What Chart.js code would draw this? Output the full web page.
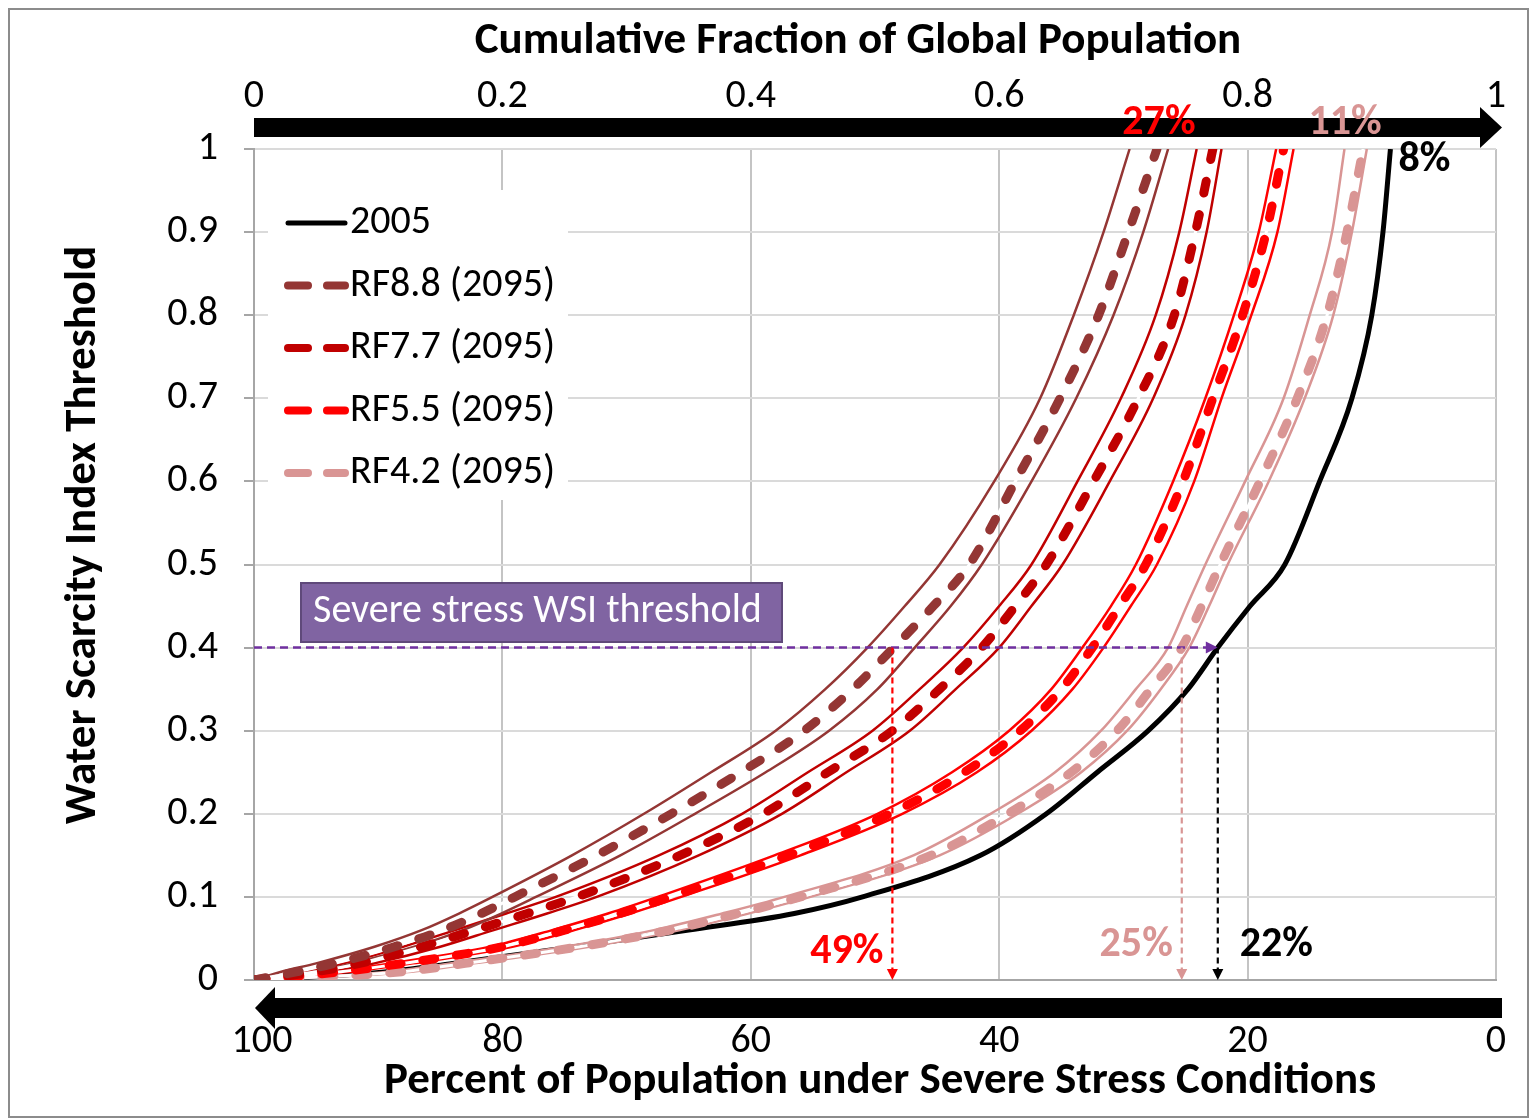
<!DOCTYPE html>
<html>
<head>
<meta charset="utf-8">
<script src="https://cdn.jsdelivr.net/npm/chart.js@4.4.0/dist/chart.umd.min.js"></script>
<style>
  html, body { margin: 0; padding: 0; background: #fff; }
</style>
</head>
<body>
<canvas id="wsiChart" width="1530" height="1119"></canvas>
<script>
// WSI threshold levels (y) and the cumulative population fraction (x) read for each curve
const wsiLevels = [0, 0.01, 0.02, 0.04, 0.06, 0.08, 0.1, 0.15, 0.2, 0.25, 0.3, 0.35, 0.4, 0.45, 0.5, 0.6, 0.7, 0.8, 0.9, 1.0];

const pop2005 = [0, 0.107, 0.16, 0.258, 0.35, 0.435, 0.49, 0.585, 0.638, 0.679, 0.72, 0.752, 0.776, 0.802, 0.830, 0.858, 0.884, 0.900, 0.909, 0.915];

const rf88   = [0, 0.035, 0.065, 0.113, 0.152, 0.183, 0.21, 0.276, 0.336, 0.392, 0.443, 0.482, 0.515, 0.547, 0.576, 0.613, 0.649, 0.680, 0.704, 0.727];
const rf88Lo = [0, 0.022, 0.05, 0.097, 0.135, 0.165, 0.192, 0.256, 0.314, 0.368, 0.42, 0.46, 0.494, 0.524, 0.552, 0.596, 0.633, 0.66, 0.684, 0.705];
const rf88Hi = [0, 0.048, 0.079, 0.129, 0.168, 0.199, 0.227, 0.295, 0.355, 0.412, 0.463, 0.502, 0.532, 0.561, 0.586, 0.626, 0.662, 0.692, 0.716, 0.736];

const rf77   = [0, 0.05, 0.085, 0.135, 0.178, 0.22, 0.26, 0.343, 0.41, 0.462, 0.514, 0.552, 0.586, 0.613, 0.638, 0.676, 0.712, 0.741, 0.758, 0.772];
const rf77Lo = [0, 0.038, 0.072, 0.12, 0.162, 0.203, 0.243, 0.326, 0.393, 0.446, 0.498, 0.536, 0.571, 0.6, 0.626, 0.663, 0.698, 0.726, 0.745, 0.759];
const rf77Hi = [0, 0.062, 0.097, 0.15, 0.193, 0.236, 0.276, 0.358, 0.425, 0.477, 0.528, 0.565, 0.6, 0.626, 0.651, 0.689, 0.724, 0.750, 0.767, 0.779];

const rf55   = [0, 0.07, 0.12, 0.2, 0.25, 0.295, 0.335, 0.43, 0.512, 0.572, 0.617, 0.65, 0.675, 0.697, 0.718, 0.748, 0.772, 0.796, 0.815, 0.829];
const rf55Lo = [0, 0.062, 0.11, 0.19, 0.24, 0.285, 0.325, 0.419, 0.502, 0.562, 0.608, 0.642, 0.667, 0.69, 0.71, 0.74, 0.766, 0.789, 0.809, 0.823];
const rf55Hi = [0, 0.078, 0.128, 0.208, 0.258, 0.303, 0.344, 0.44, 0.522, 0.582, 0.626, 0.659, 0.684, 0.706, 0.727, 0.757, 0.779, 0.803, 0.824, 0.837];

const rf42   = [0, 0.12, 0.17, 0.262, 0.335, 0.39, 0.44, 0.545, 0.607, 0.658, 0.695, 0.722, 0.747, 0.763, 0.778, 0.81, 0.84, 0.864, 0.880, 0.893];
const rf42Lo = [0, 0.108, 0.158, 0.25, 0.322, 0.377, 0.427, 0.531, 0.593, 0.645, 0.682, 0.71, 0.736, 0.751, 0.766, 0.798, 0.829, 0.850, 0.868, 0.878];
const rf42Hi = [0, 0.127, 0.177, 0.27, 0.343, 0.398, 0.448, 0.552, 0.615, 0.666, 0.703, 0.73, 0.753, 0.769, 0.784, 0.817, 0.846, 0.869, 0.884, 0.896];

// axis labels
const topTicks = [0, 0.2, 0.4, 0.6, 0.8, 1];
const bottomTicks = [100, 80, 60, 40, 20, 0];

// threshold annotation
const severeWsi = 0.4;
const thresholdCross = [
  { x: 0.514, label: '49%', color: '#ff0000' },
  { x: 0.747, label: '25%', color: '#d99594' },
  { x: 0.776, label: '22%', color: '#000000' }
];
const topLabels = [
  { x: 0.727, label: '27%', color: '#ff0000' },
  { x: 0.893, label: '11%', color: '#d99594' },
  { x: 0.915, label: '8%',  color: '#000000' }
];

const FONT = 'Carlito, Lato, "Open Sans", sans-serif';

const scenarios = [
  { label: 'RF8.8 (2095)', color: '#943634', mid: rf88, lo: rf88Lo, hi: rf88Hi },
  { label: 'RF7.7 (2095)', color: '#c00000', mid: rf77, lo: rf77Lo, hi: rf77Hi },
  { label: 'RF5.5 (2095)', color: '#ff0000', mid: rf55, lo: rf55Lo, hi: rf55Hi },
  { label: 'RF4.2 (2095)', color: '#d99594', mid: rf42, lo: rf42Lo, hi: rf42Hi }
];

function pts(xs) {
  return xs.map((v, i) => ({ x: v, y: wsiLevels[i] }));
}

const datasets = [];
datasets.push({ label: '2005', data: pts(pop2005), borderColor: '#000', borderWidth: 5, order: 10 });
scenarios.forEach(s => {
  datasets.push({ label: s.label + ' lo', data: pts(s.lo), borderColor: s.color, borderWidth: 2.5, order: 6 });
  datasets.push({ label: s.label + ' hi', data: pts(s.hi), borderColor: s.color, borderWidth: 2.5, order: 6 });
  datasets.push({ label: s.label + ' gap', data: pts(s.mid), borderColor: '#fff', borderWidth: 3, order: 4 });
  datasets.push({ label: s.label, data: pts(s.mid), borderColor: s.color, borderWidth: 9,
    borderDash: [12, 22], borderCapStyle: 'round', order: 2 });
});

function arrowHead(ctx, x, y, dir, size) {
  ctx.beginPath();
  if (dir === 'down') {
    ctx.moveTo(x - size / 2, y - size); ctx.lineTo(x + size / 2, y - size); ctx.lineTo(x, y);
  } else {
    ctx.moveTo(x - size, y - size / 2); ctx.lineTo(x - size, y + size / 2); ctx.lineTo(x, y);
  }
  ctx.closePath();
  ctx.fill();
}

const overlay = {
  id: 'overlay',
  afterDraw(chart) {
    const ctx = chart.ctx;
    const a = chart.chartArea;
    const xs = chart.scales.x, ys = chart.scales.y;
    ctx.save();

    // outer frame
    ctx.strokeStyle = '#8c8c8c';
    ctx.lineWidth = 2;
    ctx.strokeRect(9, 9, 1519, 1108);

    // top arrow (cumulative fraction)
    ctx.fillStyle = '#000';
    ctx.fillRect(a.left, 118, a.right - 16 - a.left, 19);
    ctx.beginPath();
    ctx.moveTo(a.right - 16, 107); ctx.lineTo(a.right + 6, 127.5); ctx.lineTo(a.right - 16, 148);
    ctx.closePath(); ctx.fill();

    // bottom arrow (percent under stress)
    ctx.fillRect(a.left + 21, 998, a.right + 6 - a.left - 21, 20);
    ctx.beginPath();
    ctx.moveTo(a.left + 21, 987); ctx.lineTo(a.left + 1, 1008); ctx.lineTo(a.left + 21, 1029);
    ctx.closePath(); ctx.fill();

    // tick labels top / bottom
    ctx.font = '40px ' + FONT;
    ctx.textAlign = 'center';
    ctx.textBaseline = 'middle';
    topTicks.forEach(v => ctx.fillText(String(v), xs.getPixelForValue(v), 97));
    bottomTicks.forEach(p => {
      let px = xs.getPixelForValue(1 - p / 100);
      if (p === 100) px += 8;
      ctx.fillText(String(p), px, 1042);
    });

    // titles
    ctx.font = 'bold 45px ' + FONT;
    ctx.fillText('Cumulative Fraction of Global Population', 858, 42);
    ctx.fillText('Percent of Population under Severe Stress Conditions', 880, 1082);
    ctx.save();
    ctx.translate(84, 535);
    ctx.rotate(-Math.PI / 2);
    ctx.fillText('Water Scarcity Index Threshold', 0, 0);
    ctx.restore();

    // legend
    ctx.fillStyle = '#fff';
    ctx.fillRect(268, 190, 300, 310);
    const rows = [{ label: '2005', color: '#000', dashed: false }].concat(
      scenarios.map(s => ({ label: s.label, color: s.color, dashed: true })));
    ctx.textAlign = 'left';
    ctx.font = '40px ' + FONT;
    rows.forEach((r, i) => {
      const cy = 223 + i * 62.5;
      ctx.strokeStyle = r.color;
      ctx.lineCap = 'round';
      if (r.dashed) {
        ctx.lineWidth = 8;
        ctx.beginPath(); ctx.moveTo(288, cy); ctx.lineTo(308, cy); ctx.stroke();
        ctx.beginPath(); ctx.moveTo(327, cy); ctx.lineTo(345, cy); ctx.stroke();
      } else {
        ctx.lineWidth = 5;
        ctx.beginPath(); ctx.moveTo(288, cy); ctx.lineTo(345, cy); ctx.stroke();
      }
      ctx.fillStyle = '#000';
      ctx.fillText(r.label, 350, cy);
    });
    ctx.lineCap = 'butt';

    // severe stress threshold line
    const ty = ys.getPixelForValue(severeWsi);
    const endX = xs.getPixelForValue(thresholdCross[2].x);
    ctx.strokeStyle = '#7030a0';
    ctx.fillStyle = '#7030a0';
    ctx.lineWidth = 2.5;
    ctx.setLineDash([8, 5]);
    ctx.beginPath(); ctx.moveTo(a.left, ty); ctx.lineTo(endX - 10, ty); ctx.stroke();
    ctx.setLineDash([]);
    arrowHead(ctx, endX, ty, 'right', 12);

    // vertical drop arrows and percent labels
    thresholdCross.forEach((c, i) => {
      const px = xs.getPixelForValue(c.x);
      ctx.strokeStyle = c.color;
      ctx.fillStyle = c.color;
      ctx.lineWidth = 2.2;
      ctx.setLineDash([6, 4]);
      ctx.beginPath(); ctx.moveTo(px, ty); ctx.lineTo(px, a.bottom - 8); ctx.stroke();
      ctx.setLineDash([]);
      arrowHead(ctx, px, a.bottom, 'down', 11);
      ctx.font = 'bold 42px ' + FONT;
      ctx.textBaseline = 'middle';
      if (i === 2) {
        ctx.textAlign = 'left';
        ctx.fillText(c.label, px + 22, 945);
      } else {
        ctx.textAlign = 'right';
        ctx.fillText(c.label, px - 9, i === 0 ? 952 : 945);
      }
    });

    // labels at WSI = 1
    ctx.textAlign = 'center';
    topLabels.forEach((t, i) => {
      ctx.fillStyle = t.color;
      const px = xs.getPixelForValue(t.x);
      if (i === 2) {
        ctx.textAlign = 'left';
        ctx.fillText(t.label, px + 8, 160);
      } else {
        ctx.fillText(t.label, px + (i === 1 ? -18 : 2), 123);
      }
    });

    // threshold text box
    ctx.fillStyle = '#8064a2';
    ctx.fillRect(301, 583, 481, 59);
    ctx.strokeStyle = '#5f497a';
    ctx.lineWidth = 2;
    ctx.strokeRect(301, 583, 481, 59);
    ctx.fillStyle = '#fff';
    ctx.textAlign = 'left';
    ctx.font = '40px ' + FONT;
    ctx.fillText('Severe stress WSI threshold', 313, 612);

    ctx.restore();
  }
};

new Chart(document.getElementById('wsiChart'), {
  type: 'line',
  data: { datasets: datasets },
  options: {
    responsive: false,
    animation: false,
    events: [],
    layout: { padding: { top: 149, right: 34, left: 0, bottom: 0 } },
    elements: {
      point: { radius: 0 },
      line: { fill: false, cubicInterpolationMode: 'monotone' }
    },
    plugins: {
      legend: { display: false },
      tooltip: { enabled: false }
    },
    scales: {
      x: {
        type: 'linear',
        min: 0,
        max: 1,
        ticks: { display: false, stepSize: 0.2 },
        grid: { color: '#c4c4c4', lineWidth: 2, drawTicks: false },
        border: { color: '#a6a6a6', width: 2 },
        afterFit: function(scale) { scale.height = 139; }
      },
      y: {
        min: 0,
        max: 1,
        ticks: {
          stepSize: 0.1,
          color: '#000',
          padding: 26,
          font: { family: FONT, size: 40 },
          callback: function(v) { return String(Math.round(v * 10) / 10); }
        },
        grid: { color: '#dadada', lineWidth: 2, tickLength: 10, tickColor: '#a6a6a6' },
        border: { color: '#a6a6a6', width: 2 },
        afterFit: function(scale) { scale.width = 254; }
      }
    }
  },
  plugins: [overlay]
});
</script>
</body>
</html>
